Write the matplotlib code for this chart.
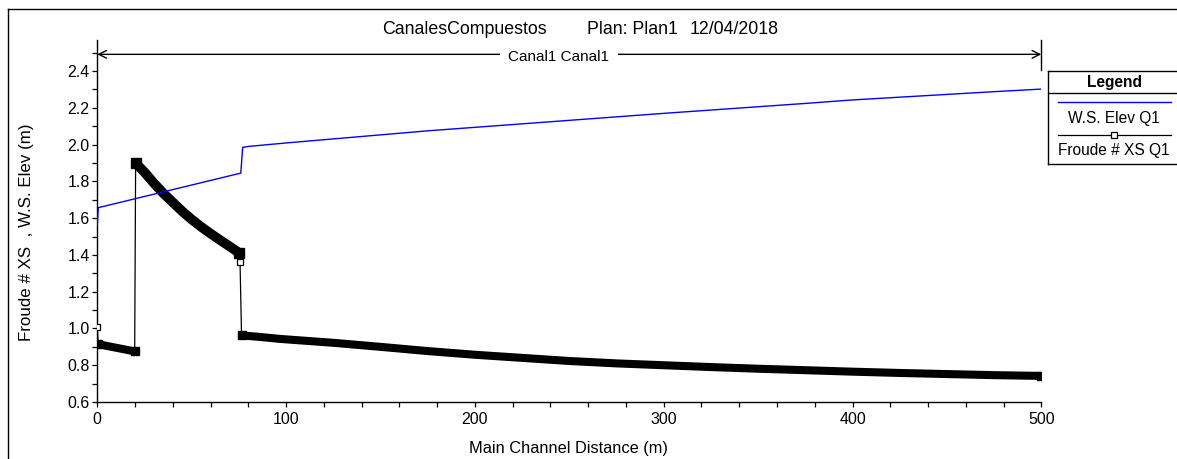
import matplotlib.pyplot as plt
from matplotlib.lines import Line2D
from matplotlib.ticker import MultipleLocator

plt.rcParams['font.family'] = ['Liberation Sans', 'DejaVu Sans']

# W.S. Elev Q1 (m)
ws_x = [0, 0.5, 76, 77, 80, 100, 125, 150, 175, 200, 225, 250, 275, 300,
        325, 350, 375, 400, 425, 450, 475, 500]
ws_y = [1.56, 1.657, 1.845, 1.985, 1.990, 2.009, 2.031, 2.053, 2.075, 2.094,
        2.113, 2.132, 2.151, 2.170, 2.188, 2.206, 2.224, 2.243, 2.258, 2.273,
        2.288, 2.302]

# Froude # XS Q1 - tramos con secciones muy juntas
reach1_x = [0.5, 5, 10, 15, 19.8]
reach1_y = [0.915, 0.905, 0.895, 0.885, 0.875]
reach2_x = [20.3, 25, 30, 35, 40, 45, 50, 55, 60, 65, 70, 75]
reach2_y = [1.900, 1.850, 1.790, 1.735, 1.686, 1.637, 1.593, 1.553, 1.516,
            1.481, 1.447, 1.412]
reach3_x = [76.4, 85, 97, 125, 150, 175, 200, 225, 250, 275, 300, 325, 350,
            375, 400, 425, 450, 475, 500]
reach3_y = [0.962, 0.955, 0.943, 0.922, 0.900, 0.877, 0.857, 0.840, 0.823,
            0.810, 0.800, 0.790, 0.781, 0.773, 0.765, 0.758, 0.752, 0.746,
            0.742]
# secciones sueltas
lone_x = [0, 75.6]
lone_y = [1.01, 1.36]

froude_x = [lone_x[0]] + reach1_x + reach2_x + [lone_x[1]] + reach3_x
froude_y = [lone_y[0]] + reach1_y + reach2_y + [lone_y[1]] + reach3_y

W, H = 1177, 459


def fx(px):
    return px / W


def fy(py):
    return 1 - py / H


fig = plt.figure(figsize=(W / 100, H / 100), dpi=100)
ax = fig.add_axes([fx(97.3), fy(402), fx(1041.3) - fx(97.3), fy(40) - fy(402)])

# linea fina que une todas las secciones
ax.plot(froude_x, froude_y, color='black', lw=0.9, zorder=2)
for rx, ry, w in [(reach1_x, reach1_y, 5.8), (reach2_x, reach2_y, 7.0),
                  (reach3_x, reach3_y, 5.8)]:
    ax.plot(rx, ry, color='black', lw=w, solid_capstyle='butt',
            solid_joinstyle='round', marker='s', markevery=[0, -1],
            ms=w, mfc='black', mec='black', zorder=3)
ax.plot(lone_x, lone_y, ls='none', marker='s', ms=4.5, mfc='white',
        mec='black', mew=0.9, zorder=4)

ax.plot(ws_x, ws_y, color='#0000ff', lw=1.0, zorder=5)

ax.set_xlim(0, 500)
ax.set_ylim(0.6, 2.569)
ax.xaxis.set_major_locator(MultipleLocator(100))
ax.xaxis.set_minor_locator(MultipleLocator(20))
ax.yaxis.set_minor_locator(MultipleLocator(0.1))
ax.set_yticks([0.6, 0.8, 1.0, 1.2, 1.4, 1.6, 1.8, 2.0, 2.2, 2.4])
ax.set_yticklabels(['0.6', '0.8', '1.0', '1.2', '1.4', '1.6', '1.8', '2.0', '2.2', '2.4'])
ax.tick_params(which='both', direction='out', length=3.5, width=0.9,
               labelsize=11.5, colors='black', pad=2)
ax.tick_params(axis='x', pad=4)
ax.spines['top'].set_visible(False)
ax.spines['right'].set_visible(False)
ax.spines['left'].set_linewidth(1.0)
ax.spines['bottom'].set_linewidth(1.0)

# flecha del tramo
ax.annotate('', xy=(0, 2.491), xytext=(500, 2.491),
            arrowprops=dict(arrowstyle='<->,head_length=0.5,head_width=0.25',
                            lw=1.0, color='black', shrinkA=0, shrinkB=0,
                            mutation_scale=11))
ax.plot([500, 500], [2.405, 2.569], color='black', lw=1.0, clip_on=False)
ax.text(244.5, 2.475, 'Canal1 Canal1', ha='center', va='center', fontsize=11,
        bbox=dict(facecolor='white', edgecolor='none', pad=6), zorder=6)

# titulo
fig.text(fx(382), fy(33.5), 'CanalesCompuestos', fontsize=12.8, va='baseline')
fig.text(fx(587), fy(33.5), 'Plan: Plan1', fontsize=12.8, va='baseline')
fig.text(fx(690), fy(33.5), '12/04/2018', fontsize=12.8, va='baseline')

fig.text(fx(568), fy(448.5), 'Main Channel Distance (m)', fontsize=11.8,
         ha='center', va='center')
fig.text(fx(26.5), fy(232), 'Froude # XS  , W.S. Elev (m)', fontsize=12.2,
         ha='center', va='center', rotation=90)

# marco de la ventana
fig.add_artist(Line2D([fx(8.3), fx(8.3)], [fy(9), 0], color='black', lw=1.0))
fig.add_artist(Line2D([fx(8.3), 1], [fy(9), fy(9)], color='black', lw=1.0))

# leyenda
lg = fig.add_axes([fx(1048), fy(164), fx(1180) - fx(1048), fy(70.7) - fy(164)])
lg.set_xlim(1048, 1180)
lg.set_ylim(164, 70.7)
lg.set_xticks([])
lg.set_yticks([])
for s in lg.spines.values():
    s.set_linewidth(1.0)
lg.plot([1048, 1180], [92.7, 92.7], color='black', lw=1.0)
lg.text(1114, 82, 'Legend', ha='center', va='center', fontsize=11.2,
        fontweight='bold')
lg.plot([1058, 1171], [102.3, 102.3], color='#0000ff', lw=1.0)
lg.text(1114, 118.3, 'W.S. Elev Q1', ha='center', va='center', fontsize=11.2)
lg.plot([1058, 1171], [135, 135], color='black', lw=0.9)
lg.plot([1114], [135], marker='s', ms=4.5, mfc='white', mec='black', mew=0.9)
lg.text(1114, 150, 'Froude # XS Q1', ha='center', va='center', fontsize=11.2)

fig.savefig('out.png', dpi=100)
